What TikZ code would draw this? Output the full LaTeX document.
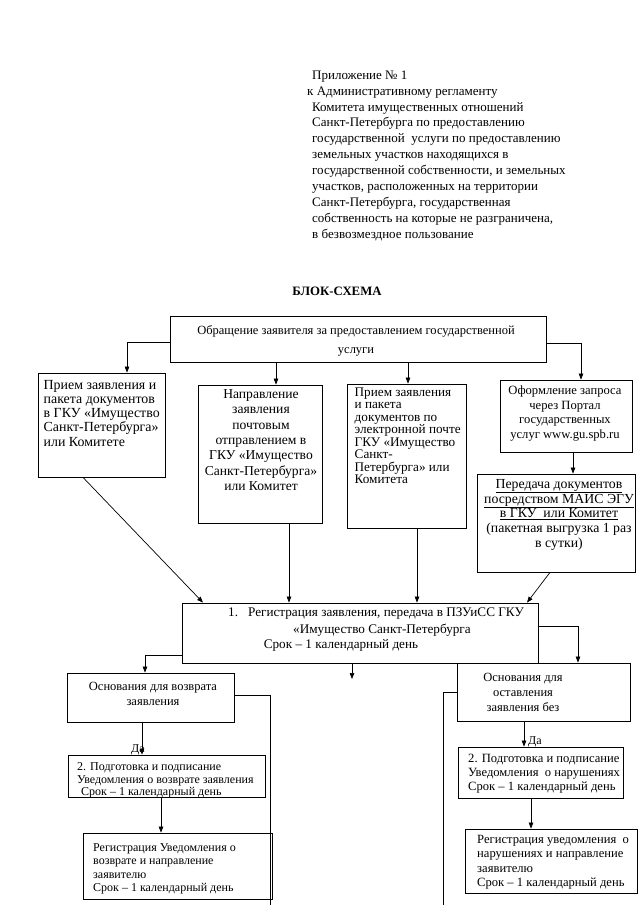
\documentclass[tikz,border=0pt]{standalone}
\usepackage{fontspec}
\setmainfont{Liberation Serif}
\usetikzlibrary{arrows.meta}
\begin{document}
\begin{tikzpicture}[x=1pt,y=-1pt,
  box/.style={draw=black, line width=0.8pt, inner sep=0pt},
  ln/.style={line width=0.7pt},
  arr/.style={line width=0.7pt, -{Triangle[length=6pt,width=4.5pt]}},
  tx/.style={inner sep=0pt, font=\fontsize{12.5}{#1}\selectfont},
  txs/.style={inner sep=0pt, font=\fontsize{12}{#1}\selectfont},
]
\useasboundingbox[fill=white] (0,0) rectangle (640,905);

% header
\node[inner sep=0pt, font=\fontsize{13}{15.9}\selectfont, anchor=north west, align=left] (hdr) at (312,70.5) {Приложение № 1\\
\hspace*{-5pt}к Административному регламенту\\
Комитета имущественных отношений\\
Санкт-Петербурга по предоставлению\\
государственной\ \ услуги по предоставлению\\
земельных участков находящихся в\\
государственной собственности, и земельных\\
участков, расположенных на территории\\
Санкт-Петербурга, государственная\\
собственность на которые не разграничена,\\
в безвозмездное пользование};

\node[inner sep=0pt, font=\fontsize{12.8}{14}\selectfont\bfseries] (title) at (337,291) {БЛОК-СХЕМА};

% boxes
\node[box, minimum width=376pt, minimum height=46pt] (top) at (358,339) {};
\node[tx=19, align=center] (topt) at (356,341) {Обращение заявителя за предоставлением государственной\\услуги};

\node[box, minimum width=127pt, minimum height=104pt] (b1) at (101.5,425) {};
\node[inner sep=0pt, font=\fontsize{13.9}{14.2}\selectfont, anchor=north west, align=left] (b1t) at (43.5,380) {Прием заявления и\\пакета документов\\в ГКУ «Имущество\\Санкт-Петербурга»\\или Комитете};

\node[box, minimum width=124pt, minimum height=138pt] (b2) at (260,454) {};
\node[inner sep=0pt, font=\fontsize{13.6}{15.3}\selectfont, anchor=north, align=center] (b2t) at (261,389.5) {Направление\\заявления\\почтовым\\отправлением в\\ГКУ «Имущество\\Санкт-Петербурга»\\или Комитет};

\node[box, minimum width=119pt, minimum height=144pt] (b3) at (406.5,456) {};
\node[inner sep=0pt, font=\fontsize{13.2}{12.5}\selectfont, anchor=north west, align=left] (b3t) at (354.5,387.5) {Прием заявления\\и пакета\\документов по\\электронной почте\\ГКУ «Имущество\\Санкт-\\Петербурга» или\\Комитета};

\node[box, minimum width=132pt, minimum height=72pt] (b4) at (566,416) {};
\node[inner sep=0pt, font=\fontsize{12.6}{14.5}\selectfont, anchor=north, align=center] (b4t) at (565,386) {Оформление запроса\\через Портал\\государственных\\услуг www.gu.spb.ru};

\node[box, minimum width=158pt, minimum height=98pt] (b5) at (556,523) {};
\node[inner sep=0pt, font=\fontsize{13.8}{14.8}\selectfont, anchor=north, align=center] (b5t) at (559,479) {\underline{Передача документов}\\\underline{посредством МАИС ЭГУ}\\\underline{в ГКУ\ \ или Комитет}\\(пакетная выгрузка 1 раз\\в сутки)};

\node[box, minimum width=356pt, minimum height=60pt] (reg) at (360,633) {};
\node[inner sep=0pt, font=\fontsize{13.2}{15}\selectfont, anchor=north west] (regt1) at (228,607.5) {1.\hspace{10pt}Регистрация заявления, передача в ПЗУиСС ГКУ};
\node[inner sep=0pt, font=\fontsize{13.2}{15}\selectfont, anchor=north west] (regt2) at (293,624) {«Имущество Санкт-Петербурга};
\node[inner sep=0pt, font=\fontsize{13.2}{15}\selectfont, anchor=north] (regt3) at (341,639) {Срок – 1 календарный день};

\node[box, minimum width=167pt, minimum height=49pt] (b7) at (150.5,697.5) {};
\node[tx=15, anchor=north, align=center] (b7t) at (153,682.5) {Основания для возврата\\заявления};

\node[box, minimum width=197pt, minimum height=42pt] (b8) at (166.5,776) {};
\node[txs=12.5, anchor=north west, align=left] (b8t) at (77,762.5) {2. Подготовка и подписание\\Уведомления о возврате заявления\\\hspace*{4pt}Срок – 1 календарный день};

\node[box, minimum width=189pt, minimum height=66pt] (b10) at (177.5,866) {};
\node[txs=13.3, anchor=north west, align=left] (b10t) at (93,843.5) {Регистрация Уведомления о\\возврате и направление\\заявителю\\Срок – 1 календарный день};

\node[box, minimum width=173pt, minimum height=58pt] (b9) at (543.5,692) {};
\node[tx=15, anchor=north, align=center] (b9t) at (523,673.5) {Основания для\\оставления\\заявления без};

\node[box, minimum width=165pt, minimum height=51pt] (b11) at (540.5,772.5) {};
\node[inner sep=0pt, font=\fontsize{12.6}{14}\selectfont, anchor=north west, align=left] (b11t) at (468,753.5) {2. Подготовка и подписание\\Уведомления\ \ о нарушениях\\Срок – 1 календарный день};

\node[box, minimum width=172pt, minimum height=64pt] (b12) at (551,861) {};
\node[inner sep=0pt, font=\fontsize{12.6}{14.3}\selectfont, anchor=north west, align=left] (b12t) at (477,835) {Регистрация уведомления\ \ о\\нарушениях и направление\\заявителю\\Срок – 1 календарный день};

\node[txs=12] (da1) at (138,750) {Да};
\node[txs=12] (da2) at (535,742) {Да};

% connectors from top box
\draw[arr] ([yshift=-3pt]top.west) -| ([xshift=25.5pt]b1.north);
\draw[arr] ([yshift=-4pt]top.east) -| ([xshift=15pt]b4.north);
\coordinate (b2in) at ([xshift=16pt]b2.north);
\draw[arr] (b2in |- top.south) -- (b2in);
\coordinate (b3in) at ([xshift=1.5pt]b3.north);
\draw[arr] (b3in |- top.south) -- (b3in);
\coordinate (b5in) at ([xshift=17pt]b5.north);
\draw[arr] (b5in |- b4.south) -- (b5in);

% into registration
\draw[arr] ([xshift=-18.5pt]b1.south) -- ([xshift=-157pt]reg.north);
\coordinate (b2out) at ([xshift=29pt]b2.south);
\draw[arr] (b2out) -- (b2out |- reg.north);
\coordinate (b3out) at ([xshift=10.5pt]b3.south);
\draw[arr] (b3out) -- (b3out |- reg.north);
\draw[arr] ([xshift=-6pt]b5.south) -- ([xshift=167pt]reg.north);

% out of registration
\draw[arr] ([yshift=-22pt]reg.west) -| ([xshift=-5.5pt]b7.north);
\draw[arr] ([yshift=7pt]reg.east) -| ([xshift=34.5pt]b9.north);
\coordinate (dn) at (352,679);
\draw[arr] (reg.south -| dn) -- (dn);

% left branch
\coordinate (lend) at (270,905);
\draw[ln] ([yshift=2.5pt]b7.east) -| (lend);
\coordinate (b7out) at ([xshift=-8.5pt]b7.south);
\draw[arr] (b7out) -- (b7out |- b8.north);
\coordinate (b8out) at ([xshift=-5.5pt]b8.south);
\draw[arr] (b8out) -- (b8out |- b10.north);

% right branch
\coordinate (rend) at (443,905);
\draw[ln] (b9.west) -| (rend);
\coordinate (b9out) at ([xshift=-19.5pt]b9.south);
\draw[arr] (b9out) -- (b9out |- b11.north);
\coordinate (b11out) at ([xshift=-9.5pt]b11.south);
\draw[arr] (b11out) -- (b11out |- b12.north);
\end{tikzpicture}
\end{document}
